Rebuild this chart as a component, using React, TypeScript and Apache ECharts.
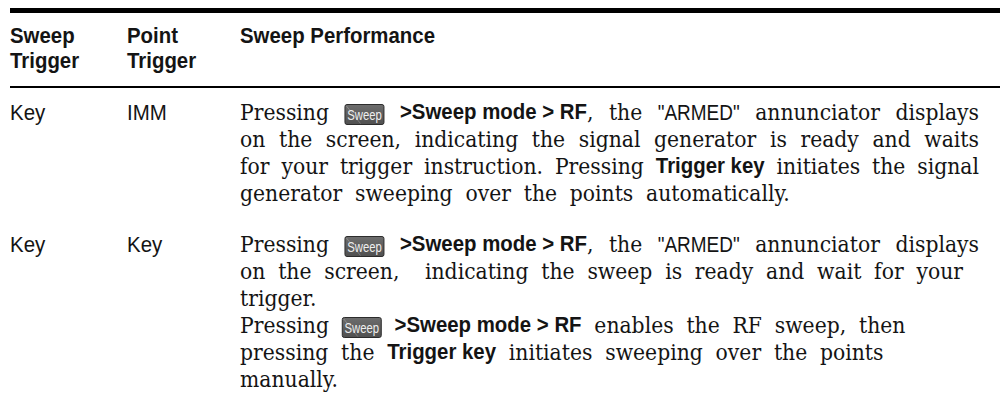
import React, { useEffect, useRef } from "react";
import * as echarts from "echarts";

// ---------- table content ----------
const headerCol1 = ["Sweep", "Trigger"];
const headerCol2 = ["Point", "Trigger"];
const headerCol3 = ["Sweep Performance"];
const sweepTrigger = ["Key", "Key"];
const pointTrigger = ["IMM", "Key"];

// run kinds: t = serif text, b = bold sans, s = plain sans, k = front-panel key icon
type Run = [string, string];
type Line = { justify: boolean; runs: Run[] };

const row1Lines: Line[] = [
  { justify: true, runs: [["t", "Pressing "], ["k", "Sweep"], ["b", " >Sweep mode > RF"], ["t", ", the "], ["s", "\"ARMED\""], ["t", " annunciator displays"]] },
  { justify: true, runs: [["t", "on the screen, indicating the signal generator is ready and waits"]] },
  { justify: true, runs: [["t", "for your trigger instruction. Pressing "], ["b", "Trigger key"], ["t", " initiates the signal"]] },
  { justify: false, runs: [["t", "generator sweeping over the points automatically."]] },
];
const row2Lines: Line[] = [
  { justify: true, runs: [["t", "Pressing "], ["k", "Sweep"], ["b", " >Sweep mode > RF"], ["t", ", the "], ["s", "\"ARMED\""], ["t", " annunciator displays"]] },
  { justify: false, runs: [["t", "on the screen,  indicating the sweep is ready and wait for your"]] },
  { justify: false, runs: [["t", "trigger."]] },
  { justify: false, runs: [["t", "Pressing "], ["k", "Sweep"], ["b", " >Sweep mode > RF"], ["t", " enables the RF sweep, then"]] },
  { justify: false, runs: [["t", "pressing the "], ["b", "Trigger key"], ["t", " initiates sweeping over the points"]] },
  { justify: false, runs: [["t", "manually."]] },
];

// ---------- layout / style ----------
const SERIF = "'DejaVu Serif', 'Liberation Serif', serif";
const SANS = "'Liberation Sans', Arial, sans-serif";
const INK = "#141414";

const COL_X = [10, 127, 240];
const RIGHT = 979;
const HEADER_BASE = [44, 69];
const LINE_H = 27;
const ROW_BASE = [120, 252];
const KEY_W = 40;
const KEY_H = 21;
const EXTRA_SPACE = 6.3;

let ctx: CanvasRenderingContext2D | null = null;
function measure(text: string, size: number, family: string, weight = "normal") {
  if (!ctx) ctx = document.createElement("canvas").getContext("2d");
  ctx!.font = `${weight} ${size}px ${family}`;
  return ctx!.measureText(text).width;
}

type St = { fontFamily: string; fontWeight: string; fontSize: number; sx: number };
type Seg = { kind: string; text: string };
type Item = { gap: number } | { seg: Seg };

function buildWords(line: Line) {
  const items: Item[] = [];
  for (const [kind, text] of line.runs) {
    if (kind === "k") {
      items.push({ seg: { kind, text } });
    } else if (kind === "b") {
      const lead = text.length - text.replace(/^ +/, "").length;
      const trail = text.length - text.replace(/ +$/, "").length;
      if (lead) items.push({ gap: lead });
      items.push({ seg: { kind, text: text.trim() } });
      if (trail) items.push({ gap: trail });
    } else {
      for (const piece of text.split(/( +)/)) {
        if (!piece) continue;
        if (/^ +$/.test(piece)) items.push({ gap: piece.length });
        else items.push({ seg: { kind, text: piece } });
      }
    }
  }
  const words: { segs: Seg[]; gapBefore: number }[] = [];
  let gap = 0;
  let cur: { segs: Seg[]; gapBefore: number } | null = null;
  for (const it of items) {
    if ("gap" in it) {
      gap += it.gap;
      cur = null;
    } else {
      if (!cur) {
        cur = { segs: [], gapBefore: words.length ? gap : 0 };
        words.push(cur);
        gap = 0;
      }
      cur.segs.push(it.seg);
    }
  }
  return words;
}

export default function App() {
  const ref = useRef<HTMLDivElement>(null);

  useEffect(() => {
    const chart = echarts.init(ref.current!, null, { renderer: "svg", width: 1000, height: 415 });

    // fonts: sizes set for glyph height, horizontal scale fitted to reference word widths
    const serifSize = 21.5;
    const serif: St = { fontFamily: SERIF, fontWeight: "normal", fontSize: serifSize, sx: 89 / measure("Pressing", serifSize, SERIF) };
    const boldSize = 22.5;
    const bold: St = { fontFamily: SANS, fontWeight: "bold", fontSize: boldSize, sx: 195 / measure("Sweep Performance", boldSize, SANS, "bold") };
    const armed: St = { fontFamily: SANS, fontWeight: "normal", fontSize: 22, sx: 82 / measure("\"ARMED\"", 22, SANS) };
    const cell: St = { fontFamily: SANS, fontWeight: "normal", fontSize: 22, sx: 0.93 };
    const keyLabel: St = { fontFamily: SANS, fontWeight: "normal", fontSize: 14.5, sx: 0.78 };

    const styleFor = (kind: string) => (kind === "b" ? bold : kind === "s" ? armed : serif);
    const widthOf = (t: string, st: St) => measure(t, st.fontSize, st.fontFamily, st.fontWeight) * st.sx;
    const segWidth = (s: Seg) => (s.kind === "k" ? KEY_W : widthOf(s.text, styleFor(s.kind)));

    const els: any[] = [];
    const textEl = (x: number, y: number, t: string, st: St, fill: string) => ({
      type: "text",
      x,
      y,
      scaleX: st.sx,
      silent: true,
      style: {
        text: t,
        fill,
        align: "left",
        verticalAlign: "middle",
        fontFamily: st.fontFamily,
        fontWeight: st.fontWeight,
        fontSize: st.fontSize,
      },
    });
    const text = (x: number, base: number, t: string, st: St) => {
      els.push(textEl(x, base - 0.35 * st.fontSize, t, st, INK));
    };
    const keyIcon = (x: number, base: number, label: string) => {
      const lw = widthOf(label, keyLabel);
      els.push({
        type: "group",
        x,
        y: base - 16,
        children: [
          {
            type: "rect",
            shape: { x: 0.5, y: 0.5, width: KEY_W - 1, height: KEY_H - 1, r: 2 },
            style: {
              fill: new echarts.graphic.LinearGradient(0, 0, 0, 1, [
                { offset: 0, color: "#6d6d6d" },
                { offset: 1, color: "#505050" },
              ]),
              stroke: "#2c2c2c",
              lineWidth: 1,
            },
          },
          {
            type: "line",
            shape: { x1: 2, y1: 2, x2: 16, y2: KEY_H - 1.5 },
            style: { stroke: "rgba(255,255,255,0.22)", lineWidth: 1 },
          },
          textEl((KEY_W - lw) / 2, KEY_H / 2 + 0.5, label, keyLabel, "#eeeeee"),
        ],
      });
    };

    // rules
    els.push({ type: "rect", shape: { x: 10, y: 8, width: 990, height: 5 }, style: { fill: "#000" } });
    els.push({ type: "rect", shape: { x: 10, y: 86, width: 990, height: 2 }, style: { fill: "#000" } });

    // headers
    headerCol1.forEach((t, i) => text(COL_X[0], HEADER_BASE[i], t, bold));
    headerCol2.forEach((t, i) => text(COL_X[1], HEADER_BASE[i], t, bold));
    headerCol3.forEach((t, i) => text(COL_X[2], HEADER_BASE[i], t, bold));

    // body rows
    const rows = [row1Lines, row2Lines];
    const natural = widthOf(" ", serif) + EXTRA_SPACE;
    rows.forEach((lines, r) => {
      text(COL_X[0], ROW_BASE[r], sweepTrigger[r], cell);
      text(COL_X[1], ROW_BASE[r], pointTrigger[r], cell);
      lines.forEach((line, li) => {
        const base = ROW_BASE[r] + li * LINE_H;
        const words = buildWords(line);
        const total = words.reduce((a, w) => a + w.segs.reduce((b, s) => b + segWidth(s), 0), 0);
        const gapUnits = words.reduce((a, w) => a + w.gapBefore, 0);
        const unit = line.justify && gapUnits > 0 ? (RIGHT - COL_X[2] - total) / gapUnits : natural;
        let x = COL_X[2];
        words.forEach((w) => {
          x += w.gapBefore * unit;
          for (const s of w.segs) {
            if (s.kind === "k") keyIcon(x, base, s.text);
            else text(x, base, s.text, styleFor(s.kind));
            x += segWidth(s);
          }
        });
      });
    });

    chart.setOption({ animation: false, graphic: { elements: els } });
    return () => chart.dispose();
  }, []);

  return (
    <div
      ref={ref}
      style={{ position: "absolute", left: 0, top: 0, width: 1000, height: 415, background: "#fff" }}
    />
  );
}
